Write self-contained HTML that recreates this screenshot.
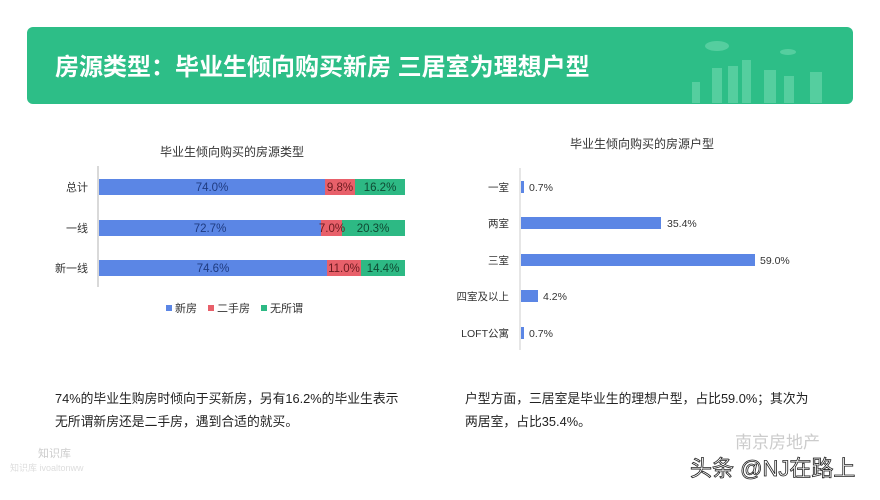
<!DOCTYPE html>
<html><head><meta charset="utf-8"><style>
body{margin:0;width:880px;height:495px;background:#fff;overflow:hidden;font-family:"Liberation Sans","Noto Sans CJK SC",sans-serif;}
</style></head><body>
<svg width="880" height="495" xmlns="http://www.w3.org/2000/svg" font-family="Liberation Sans, Noto Sans CJK SC, sans-serif">
<rect x="27" y="27" width="826" height="77" rx="6" fill="#2dbe87"/>
<g fill="#5fd3a6" opacity="0.8">
<rect x="692" y="82" width="8" height="21"/><rect x="712" y="68" width="10" height="35"/><rect x="728" y="66" width="10" height="37"/><rect x="742" y="60" width="9" height="43"/><rect x="764" y="70" width="12" height="33"/><rect x="784" y="76" width="10" height="27"/><rect x="810" y="72" width="12" height="31"/>
<ellipse cx="717" cy="46" rx="12" ry="5"/><ellipse cx="788" cy="52" rx="8" ry="3"/>
</g>
<text x="55" y="75" font-size="24" font-weight="bold" fill="#fff">房源类型：毕业生倾向购买新房 三居室为理想户型</text>

<text x="232" y="156" font-size="12" fill="#333" text-anchor="middle">毕业生倾向购买的房源类型</text>
<line x1="98" y1="166" x2="98" y2="287" stroke="#ccc" stroke-width="1.5"/>
<g font-size="11" fill="#333" text-anchor="end">
<text x="88" y="191">总计</text><text x="88" y="232">一线</text><text x="88" y="272">新一线</text></g>
<g font-size="11.5" text-anchor="middle">
<rect x="99" y="179" width="226" height="16" fill="#5b86e5"/><rect x="325" y="179" width="30" height="16" fill="#e8606a"/><rect x="355" y="179" width="50" height="16" fill="#2db984"/>
<text x="212" y="191" fill="#1f3b80">74.0%</text><text x="340" y="191" fill="#6b1a1f">9.8%</text><text x="380" y="191" fill="#0f4a33">16.2%</text>
<rect x="99" y="220" width="222" height="16" fill="#5b86e5"/><rect x="321" y="220" width="21" height="16" fill="#e8606a"/><rect x="342" y="220" width="63" height="16" fill="#2db984"/>
<text x="210" y="232" fill="#1f3b80">72.7%</text><text x="332" y="232" fill="#6b1a1f">7.0%</text><text x="373" y="232" fill="#0f4a33">20.3%</text>
<rect x="99" y="260" width="228" height="16" fill="#5b86e5"/><rect x="327" y="260" width="34" height="16" fill="#e8606a"/><rect x="361" y="260" width="44" height="16" fill="#2db984"/>
<text x="213" y="272" fill="#1f3b80">74.6%</text><text x="344" y="272" fill="#6b1a1f">11.0%</text><text x="383" y="272" fill="#0f4a33">14.4%</text>
</g>
<g font-size="11" fill="#333">
<rect x="166" y="305" width="6" height="6" fill="#5b86e5"/><text x="175" y="312">新房</text>
<rect x="208" y="305" width="6" height="6" fill="#e8606a"/><text x="217" y="312">二手房</text>
<rect x="261" y="305" width="6" height="6" fill="#2db984"/><text x="270" y="312">无所谓</text>
</g>

<text x="642" y="148" font-size="12" fill="#333" text-anchor="middle">毕业生倾向购买的房源户型</text>
<line x1="520" y1="168" x2="520" y2="350" stroke="#ccc" stroke-width="1"/>
<g font-size="10.5" fill="#333" text-anchor="end">
<text x="509" y="191">一室</text><text x="509" y="227">两室</text><text x="509" y="264">三室</text><text x="509" y="300">四室及以上</text><text x="509" y="337">LOFT公寓</text></g>
<g fill="#5b86e5">
<rect x="521" y="181" width="3" height="12"/><rect x="521" y="217" width="140" height="12"/><rect x="521" y="254" width="234" height="12"/><rect x="521" y="290" width="17" height="12"/><rect x="521" y="327" width="3" height="12"/></g>
<g font-size="10.5" fill="#333">
<text x="529" y="191">0.7%</text><text x="667" y="227">35.4%</text><text x="760" y="264">59.0%</text><text x="543" y="300">4.2%</text><text x="529" y="337">0.7%</text></g>

<g font-size="12.8" fill="#222">
<text x="55" y="403">74%的毕业生购房时倾向于买新房，另有16.2%的毕业生表示</text>
<text x="55" y="426">无所谓新房还是二手房，遇到合适的就买。</text>
<text x="465" y="403">户型方面，三居室是毕业生的理想户型，占比59.0%；其次为</text>
<text x="465" y="426">两居室，占比35.4%。</text>
</g>
<text x="38" y="457" font-size="11" fill="#ccc">知识库</text>
<text x="10" y="471" font-size="9" fill="#ddd">知识库 ivoaltonww</text>
<text x="735" y="448" font-size="17" fill="#ccc">南京房地产</text>
<text x="690" y="476" font-size="22" fill="#fff" stroke="#222" stroke-width="0.8">头条 @NJ在路上</text>
</svg>
</body></html>
